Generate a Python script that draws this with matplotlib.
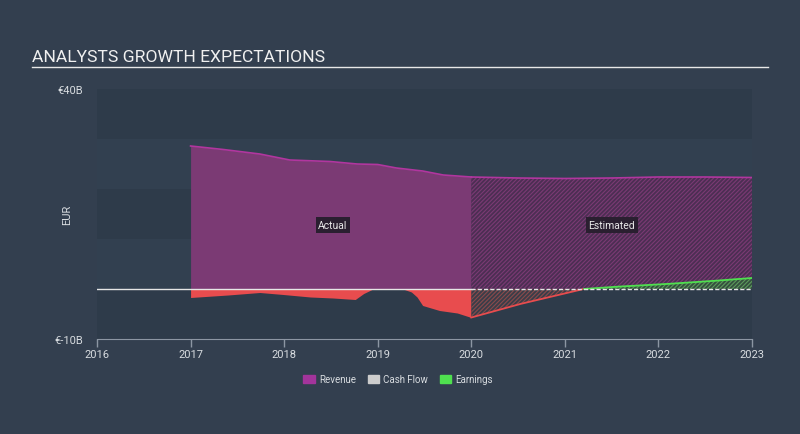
import matplotlib.pyplot as plt
import matplotlib.patches as mpatches
import numpy as np

plt.rcParams['font.family'] = ['Roboto', 'DejaVu Sans']
plt.rcParams['hatch.linewidth'] = 0.8

# revenue (EUR bn), actual and estimated
rev_act_x = [2017.0, 2017.35, 2017.74, 2018.06, 2018.49, 2018.78, 2019.0, 2019.2, 2019.48, 2019.7, 2020.0]
rev_act_y = [28.6, 27.9, 27.0, 25.8, 25.5, 25.0, 24.9, 24.2, 23.6, 22.8, 22.4]
rev_est_x = [2020.0, 2020.5, 2021.0, 2021.5, 2022.0, 2022.5, 2023.0]
rev_est_y = [22.4, 22.2, 22.1, 22.2, 22.4, 22.4, 22.3]

# earnings (EUR bn)
earn_act_x = [2017.0, 2017.4, 2017.74, 2017.99, 2018.28, 2018.52, 2018.76, 2018.85, 2018.95,
              2019.27, 2019.36, 2019.42, 2019.48, 2019.66, 2019.85, 2020.0]
earn_act_y = [-1.7, -1.2, -0.7, -1.1, -1.6, -1.8, -2.1, -0.9, 0.1,
              0.1, -0.6, -1.6, -3.3, -4.3, -4.8, -5.7]
earn_est_x = [2020.0, 2020.5, 2021.0, 2021.2, 2021.5, 2022.0, 2022.5, 2023.0]
earn_est_y = [-5.7, -3.1, -0.9, 0.0, 0.4, 0.9, 1.5, 2.2]

bg = '#333f4f'
fig = plt.figure(figsize=(8, 4.35), dpi=100, facecolor=bg)
ax = fig.add_axes([97/800, 1-340/435, (752-97)/800, 250/435])
ax.set_facecolor('#2e3b4a')

# alternating bands
for lo in [0, 20]:
    ax.axhspan(lo, lo+10, color='#324050', lw=0, zorder=0)

rev_c = '#7b3a74'
line_c = '#b1369f'
red = '#e84c4e'
green = '#4fe04f'

ax.fill_between(rev_act_x, rev_act_y, 0, color=rev_c, lw=0, zorder=2)
ax.plot(rev_act_x, rev_act_y, color=line_c, lw=1.2, zorder=3)
ax.fill_between(rev_est_x, rev_est_y, 0, facecolor='#4c2e53', edgecolor='#7b3a74',
                hatch='////////', lw=0, zorder=2)
ax.plot(rev_est_x, rev_est_y, color=line_c, lw=1.2, zorder=3)

ea = np.array(earn_act_y)
ax.fill_between(earn_act_x, np.minimum(ea, 0), 0, color=red, lw=0, zorder=2)
ax.fill_between(earn_act_x, np.maximum(ea, 0), 0, color=green, lw=0, zorder=2)
ee = np.array(earn_est_y)
ax.fill_between(earn_est_x, np.minimum(ee, 0), 0, facecolor='#3a3d48', edgecolor='#8a4a4c',
                hatch='////////', lw=0, zorder=2)
ax.fill_between(earn_est_x, np.maximum(ee, 0), 0, facecolor='#34503e', edgecolor='#5c9a5c',
                hatch='////////', lw=0, zorder=2)
exx = np.linspace(2020, 2023, 200)
eyy = np.interp(exx, earn_est_x, earn_est_y)
ax.plot(exx, np.where(eyy <= 0, eyy, np.nan), color=red, lw=1.3, zorder=3)
ax.plot(exx, np.where(eyy >= 0, eyy, np.nan), color=green, lw=1.3, zorder=3)

ax.plot([2016, 2020], [0, 0], color='#e6e6e6', lw=1, zorder=4)
ax.plot([2020, 2023], [0, 0], color='#e6e6e6', lw=1, ls=(0, (3, 1.5)), zorder=4)

ax.set_xlim(2016, 2023)
ax.set_ylim(-10, 40)
ax.set_xticks(range(2016, 2024))
ax.set_xticklabels([str(y) for y in range(2016, 2024)])
ax.set_yticks([-10, 40])
ax.set_yticklabels(['€-10B', '€40B'])
for s in ['top', 'right', 'left']:
    ax.spines[s].set_visible(False)
ax.spines['bottom'].set_color('#8c96a3')
ax.tick_params(axis='x', colors='#8c96a3', labelcolor='#d8dce0', labelsize=8, length=6, width=1, pad=1)
ax.tick_params(axis='y', length=0, labelcolor='#d8dce0', labelsize=8, pad=10)
ax.set_ylabel('EUR', color='#d8dce0', fontsize=8)
ax.yaxis.set_label_coords(-0.038, 0.5)

box = dict(boxstyle='square,pad=0.25', fc='#2a1f30', ec='none')
ax.text(2018.52, 12.8, 'Actual', color='#e8e8e8', fontsize=7.5, ha='center', va='center', bbox=box, zorder=5)
ax.text(2021.5, 12.8, 'Estimated', color='#e8e8e8', fontsize=7.5, ha='center', va='center', bbox=box, zorder=5)

fig.text(32/800, 1-57/435, 'ANALYSTS GROWTH EXPECTATIONS', color='#f0f0f0', fontsize=12.6, ha='left', va='center')
fig.add_artist(plt.Line2D([32/800, 768/800], [1-68/435, 1-68/435], color='#e8e8e8', lw=1))

handles = [mpatches.Patch(color='#a3349b', label='Revenue'),
           mpatches.Patch(color='#cccccc', label='Cash Flow'),
           mpatches.Patch(color=green, label='Earnings')]
leg = fig.legend(handles=handles, loc='center', bbox_to_anchor=(398/800, 1-380/435), ncol=3,
                 frameon=False, fontsize=7, labelcolor='#d8dce0', handlelength=1.2, handleheight=0.9,
                 handletextpad=0.4, columnspacing=1.2)

fig.savefig('out.png', dpi=100, facecolor=bg)
